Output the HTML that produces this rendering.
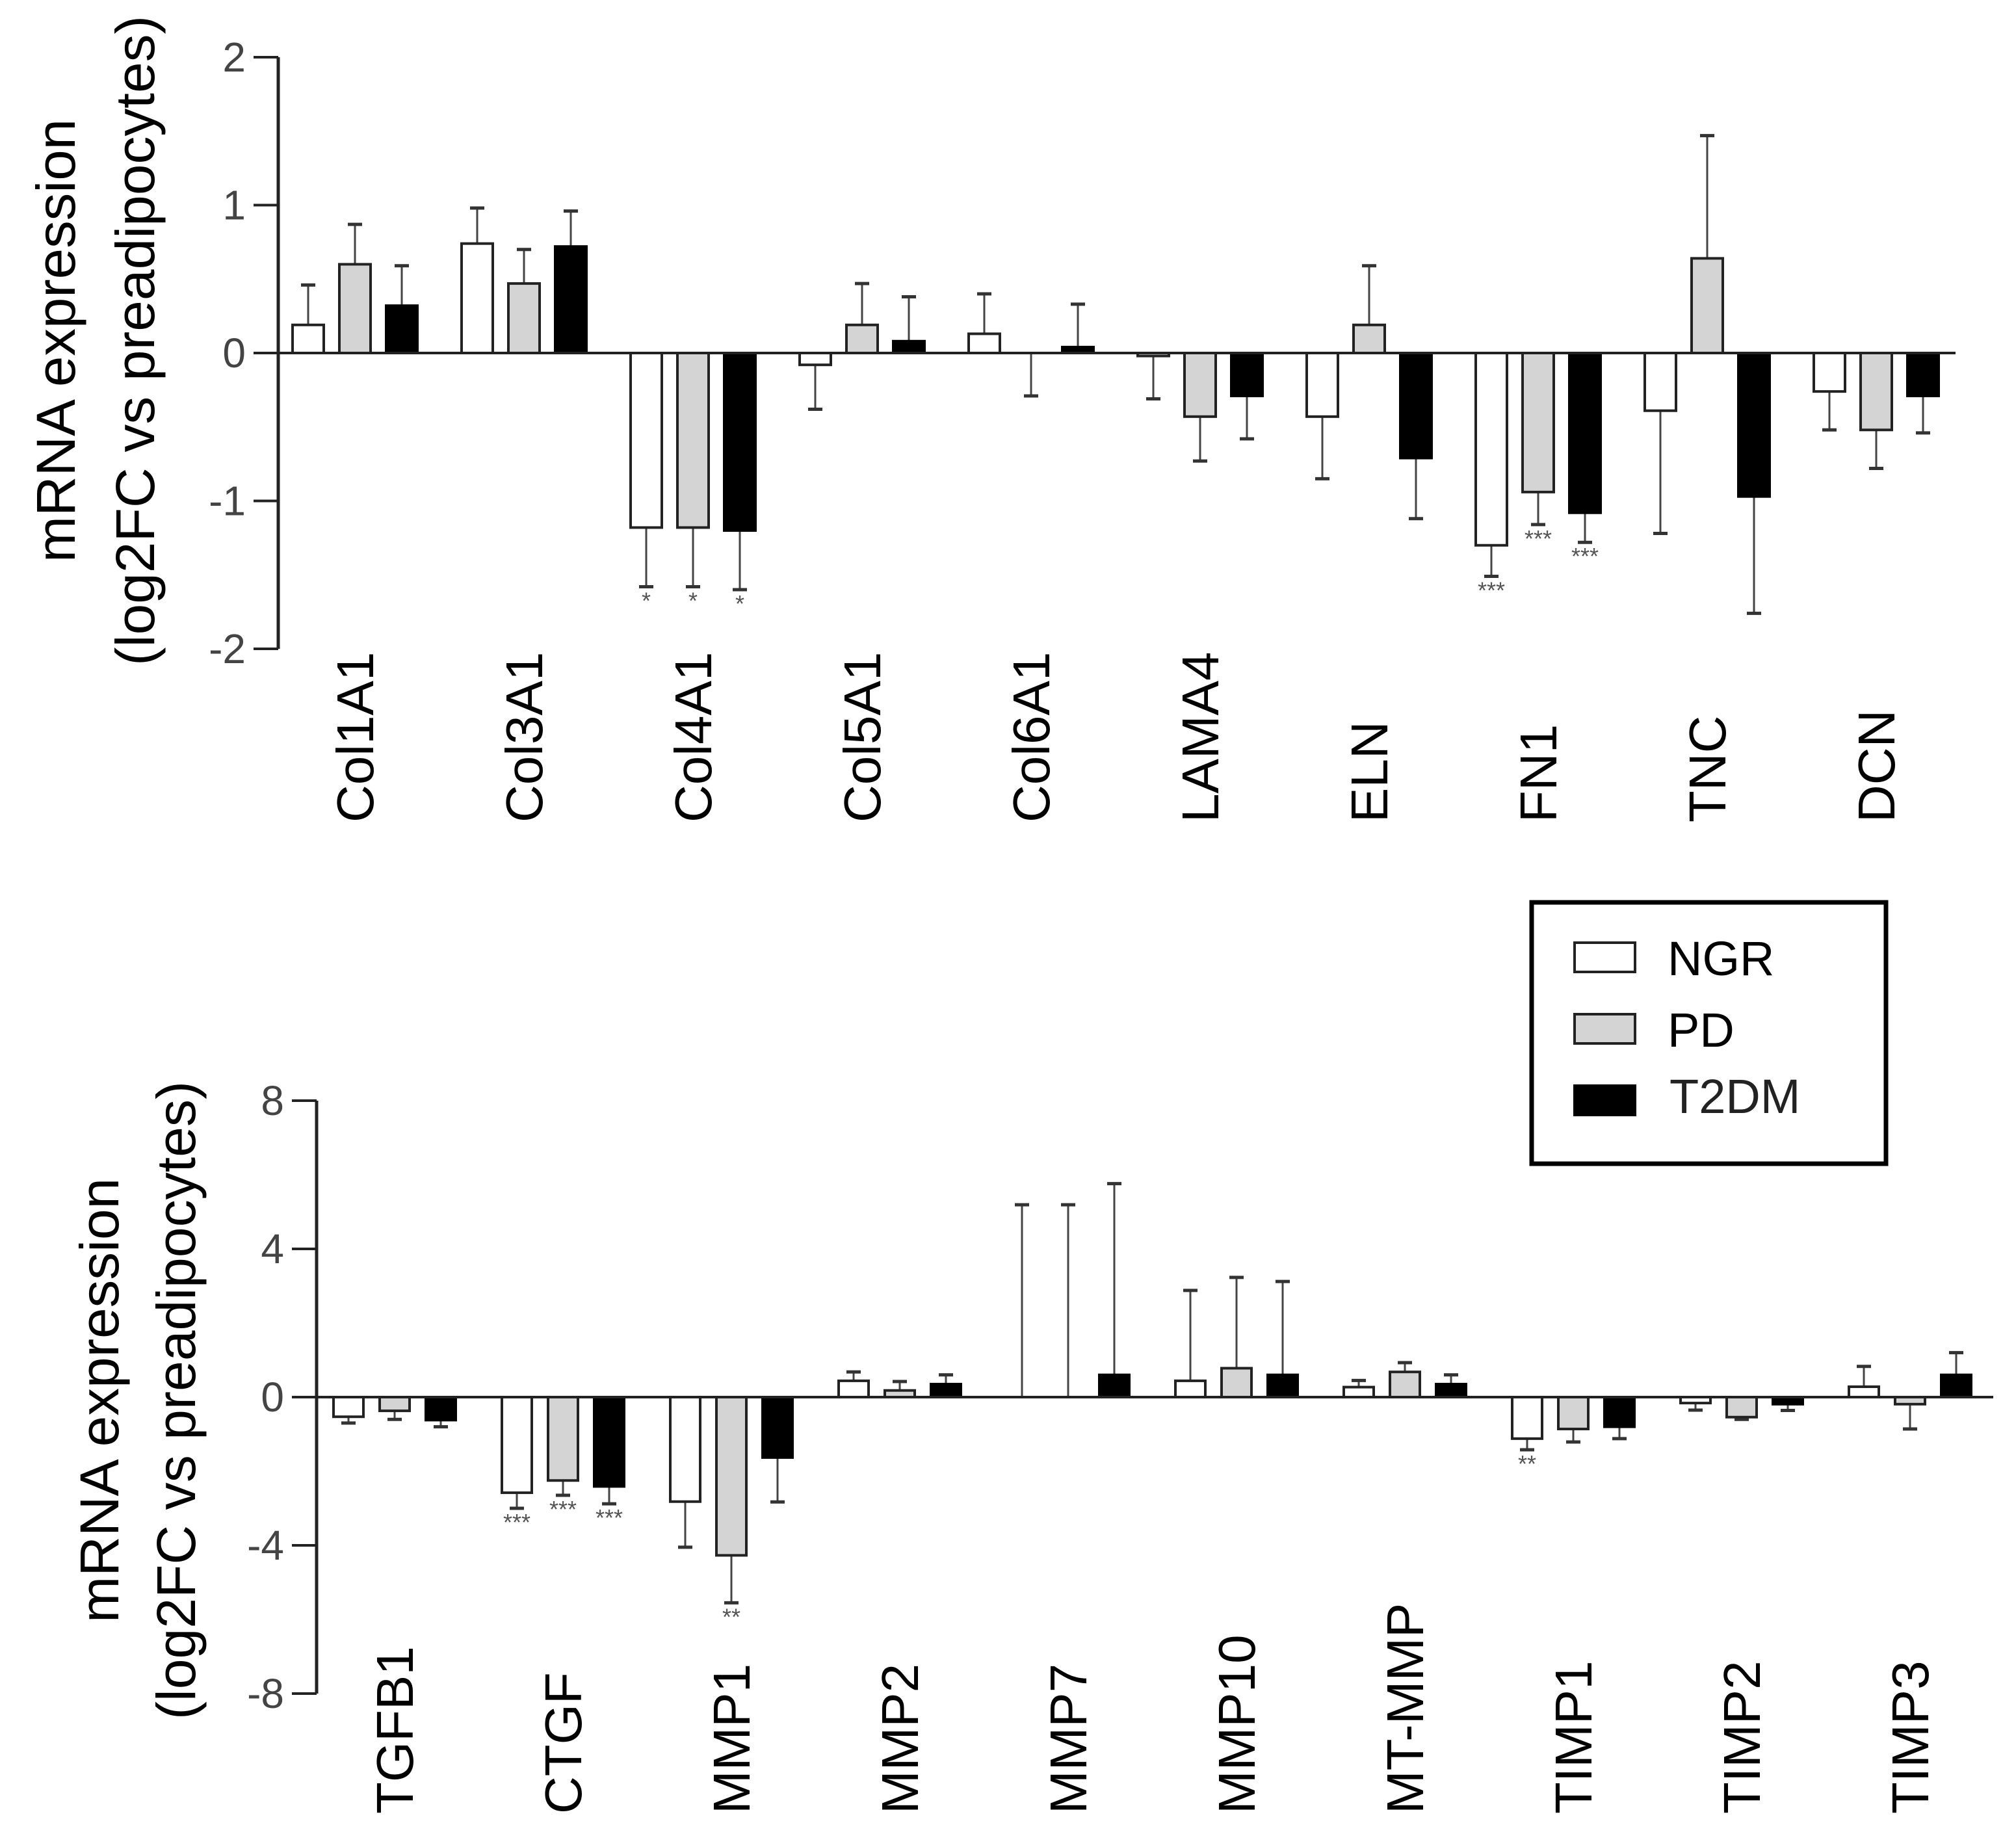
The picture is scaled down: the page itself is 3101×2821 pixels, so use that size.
<!DOCTYPE html>
<html><head><meta charset="utf-8"><style>
html,body{margin:0;padding:0;background:#fff;}
svg{display:block;font-family:"Liberation Sans",sans-serif;}
</style></head><body>
<svg id="fig" width="3101" height="2821" viewBox="0 0 3101 2821" xmlns="http://www.w3.org/2000/svg">
<g id="top"></g>
<g id="bot"></g>
<g id="legend">
  <rect x="2356" y="1388" width="545" height="402" fill="#fff" stroke="#000" stroke-width="7"/>
  <rect x="2422" y="1450" width="93" height="45" fill="#fff" stroke="#222" stroke-width="4"/>
  <text x="2565" y="1500" font-size="74">NGR</text>
  <rect x="2422" y="1560" width="93" height="45" fill="#d4d4d4" stroke="#222" stroke-width="4"/>
  <text x="2565" y="1610" font-size="74">PD</text>
  <rect x="2422" y="1670" width="93" height="45" fill="#000" stroke="#000" stroke-width="4"/>
  <text x="2568" y="1712" font-size="74" fill="#222">T2DM</text>
</g>
</svg>
<script>
// ---- Top chart data ----
const topCats = ["Col1A1","Col3A1","Col4A1","Col5A1","Col6A1","LAMA4","ELN","FN1","TNC","DCN"];
const topNGR  = [0.19,0.74,-1.18,-0.08,0.13,-0.02,-0.43,-1.30,-0.39,-0.26];
const topNGRerr = [0.46,0.98,-1.58,-0.38,0.40,-0.31,-0.85,-1.51,-1.22,-0.52];
const topPD   = [0.60,0.47,-1.18,0.19,0,-0.43,0.19,-0.94,0.64,-0.52];
const topPDerr= [0.87,0.70,-1.58,0.47,-0.29,-0.73,0.59,-1.16,1.47,-0.78];
const topT2   = [0.32,0.72,-1.20,0.08,0.04,-0.29,-0.71,-1.08,-0.97,-0.29];
const topT2err= [0.59,0.96,-1.60,0.38,0.33,-0.58,-1.12,-1.28,-1.76,-0.54];
const topStars= [["","",""],["","",""],["*","*","*"],["","",""],["","",""],["","",""],["","",""],["***","***","***"],["","",""],["","",""]];
const topTicks= [2,1,0,-1,-2];
// ---- Bottom chart data ----
const botCats = ["TGFB1","CTGF","MMP1","MMP2","MMP7","MMP10","MT-MMP","TIMP1","TIMP2","TIMP3"];
const botNGR  = [-0.53,-2.58,-2.82,0.44,0,0.44,0.27,-1.12,-0.16,0.28];
const botNGRerr=[-0.70,-3.0,-4.05,0.68,5.19,2.88,0.45,-1.42,-0.35,0.83];
const botPD   = [-0.37,-2.25,-4.27,0.18,0,0.78,0.68,-0.86,-0.54,-0.19];
const botPDerr= [-0.60,-2.65,-5.55,0.42,5.19,3.23,0.93,-1.21,-0.60,-0.86];
const botT2   = [-0.62,-2.41,-1.63,0.35,0.60,0.60,0.35,-0.80,-0.19,0.60];
const botT2err= [-0.80,-2.88,-2.83,0.60,5.76,3.12,0.60,-1.12,-0.36,1.20];
const botStars= [["","",""],["***","***","***"],["","**",""],["","",""],["","",""],["","",""],["","",""],["**","",""],["","",""],["","",""]];
const botTicks= [8,4,0,-4,-8];

const NS="http://www.w3.org/2000/svg";
function mk(parent,tag,attrs){const e=document.createElementNS(NS,tag);for(const k in attrs)e.setAttribute(k,attrs[k]);parent.appendChild(e);return e;}

function drawChart(g,cfg){
  const yS=v=>cfg.zeroY-v*cfg.unit;
  const xC=i=>cfg.firstX+i*cfg.step;
  // y axis
  let ax=mk(g,'line',{x1:cfg.axisX,y1:yS(cfg.ticks[0]),x2:cfg.axisX,y2:yS(cfg.ticks[cfg.ticks.length-1]),stroke:'#222','stroke-width':5});
  
  
  cfg.ticks.forEach(t=>{
    let tl=mk(g,'line',{x1:cfg.axisX-38,y1:yS(t),x2:cfg.axisX,y2:yS(t),stroke:'#222','stroke-width':4});
    
    
    let tx=mk(g,'text',{x:cfg.axisX-50,y:yS(t)+22,'font-size':64,'text-anchor':'end',fill:'#444'});
    tx.textContent=String(t);
    
    
  });
  const series=[[cfg.ngr,cfg.ngrErr,'#fff','#222'],[cfg.pd,cfg.pdErr,'#d4d4d4','#222'],[cfg.t2,cfg.t2Err,'#000','#000']];
  cfg.cats.forEach((c,i)=>{
    series.forEach((s,j)=>{
      const cx=xC(i)+(j-1)*cfg.off;
      const v=s[0][i], e=s[1][i];
      // error bar
      let el=mk(g,'line',{x1:cx,y1:yS(v),x2:cx,y2:yS(e),stroke:'#444','stroke-width':3});
      
      
      let cap=mk(g,'line',{x1:cx-11,y1:yS(e),x2:cx+11,y2:yS(e),stroke:'#333','stroke-width':5});
      
      
      if(v!==0){
        const y0=Math.min(yS(v),cfg.zeroY), h=Math.abs(yS(v)-cfg.zeroY);
        let r=mk(g,'rect',{x:cx-cfg.bw/2,y:y0,width:cfg.bw,height:h,fill:s[2],stroke:s[3],'stroke-width':4});
        
        
      }
      const st=cfg.stars[i][j];
      if(st){
        let t=mk(g,'text',{x:cx,y:yS(e)+cfg.starDy,'font-size':36,'text-anchor':'middle',fill:'#555'});
        t.textContent=st;
        
        
      }
    });
    let lb=mk(g,'text',{x:0,y:0,'font-size':80,'text-anchor':'start',transform:`translate(${xC(i)+28},${cfg.labelY}) rotate(-90)`});
    lb.textContent=c;
    
    
  });
  // zero line
  let zl=mk(g,'line',{x1:cfg.axisX,y1:cfg.zeroY,x2:cfg.axisEnd,y2:cfg.zeroY,stroke:'#222','stroke-width':4});
  
  
  // titles
  let t1=mk(g,'text',{x:0,y:0,'font-size':84,'text-anchor':'middle',textLength:cfg.t1len,lengthAdjust:'spacingAndGlyphs',transform:`translate(${cfg.t1x},${cfg.tCy}) rotate(-90)`});
  t1.textContent='mRNA expression';
  
  
  let t2=mk(g,'text',{x:0,y:0,'font-size':84,'text-anchor':'middle',textLength:cfg.t2len,lengthAdjust:'spacingAndGlyphs',transform:`translate(${cfg.t2x},${cfg.tCy}) rotate(-90)`});
  t2.textContent='(log2FC vs preadipocytes)';
  
  
}

drawChart(document.getElementById('top'),{cats:topCats,ngr:topNGR,ngrErr:topNGRerr,pd:topPD,pdErr:topPDerr,t2:topT2,t2Err:topT2err,stars:topStars,ticks:topTicks,
  zeroY:543,unit:227.5,axisX:428,axisEnd:3008,firstX:546,step:260,off:72,bw:48,labelY:1265,starDy:34,
  t1x:115,t2x:237,tCy:524,t1len:682,t2len:1000});
drawChart(document.getElementById('bot'),{cats:botCats,ngr:botNGR,ngrErr:botNGRerr,pd:botPD,pdErr:botPDerr,t2:botT2,t2Err:botT2err,stars:botStars,ticks:botTicks,
  zeroY:2149,unit:57,axisX:487,axisEnd:3066,firstX:607,step:259,off:71,bw:46,labelY:2790,starDy:34,
  t1x:182,t2x:300,tCy:2154,t1len:684,t2len:982});
</script>
</body></html>
